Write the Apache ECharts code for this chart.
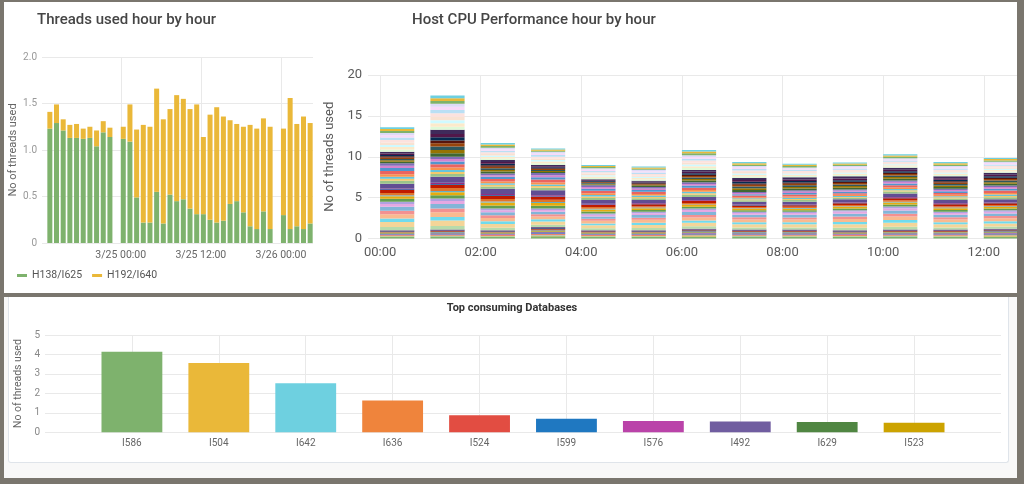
<!DOCTYPE html>
<html><head><meta charset="utf-8">
<script src="https://cdn.jsdelivr.net/npm/echarts@6/dist/echarts.min.js"></script>
<style>
html,body{margin:0;padding:0;background:#7a766e;}
#wrap{position:relative;width:1024px;height:484px;background:#7a766e;overflow:hidden;}
.p{position:absolute;}
#chart{position:absolute;left:0;top:0;width:1024px;height:484px;}
</style></head><body>
<div id="wrap">
<div class="p" style="left:4px;top:2px;width:1013px;height:291px;background:#fff"></div>
<div class="p" style="left:4px;top:297px;width:1013px;height:181px;background:#f8f8f8"></div>
<div class="p" style="left:8px;top:297px;width:999px;height:165px;background:#fff;border:1px solid #dfe4ea;border-top:none;border-radius:0 0 3px 3px"></div>
<div id="chart"></div>
<div class="p" style="left:1017px;top:0;width:7px;height:484px;background:#7a766e;z-index:5"></div>
</div>
<script>
// ---------- Chart 1: Threads used hour by hour ----------
const threadHours = [-11,-10,-9,-8,-7,-6,-5,-4,-3,-2,-1,0,1,2,3,4,5,6,7,8,9,10,11,12,13,14,15,16,17,18,19,20,21,22,23,24,25,26,27,28];
const threadSeriesNames = ['H138/I625','H192/I640'];
const h138Values = [1.23,1.29,1.21,1.13,1.13,1.12,1.13,1.04,1.19,1.14,null,1.12,1.09,0.49,0.22,0.22,0.55,0.21,0.52,0.45,0.47,0.37,0.31,0.31,0.25,0.22,0.24,0.42,0.45,0.33,0.18,0.15,0.34,0.15,null,0.30,0.15,0.18,0.15,0.21];
const h192Values = [0.18,0.20,0.12,0.14,0.15,0.11,0.12,0.17,0.12,0.10,null,0.13,0.40,0.73,1.05,1.03,1.11,1.12,0.92,1.14,1.08,1.07,1.18,0.83,1.13,1.24,1.12,0.90,0.83,0.92,1.09,1.08,1.00,1.10,null,0.93,1.41,1.10,1.21,1.08];
const threadTickHours = [0,12,24];
const threadTickLabels = ['3/25 00:00','3/25 12:00','3/26 00:00'];

// ---------- Chart 2: Host CPU Performance hour by hour ----------
const cpuHours = [0,1,2,3,4,5,6,7,8,9,10,11,12];
const cpuTickHours = [0,2,4,6,8,10,12];
const cpuTickLabels = ['00:00','02:00','04:00','06:00','08:00','10:00','12:00'];
const cpuSeriesValues = [
 [0.22,0.24,0.22,0.26,0.21,0.22,0.24,0.23,0.22,0.21,0.23,0.22,0.24],
 [0.06,0.05,0.05,0.08,0.06,0.05,0.07,0.06,0.05,0.05,0.06,0.06,0.07],
 [0.05,0.06,0.05,0.07,0.05,0.05,0.06,0.05,0.06,0.05,0.06,0.05,0.06],
 [0.04,0.06,0.06,0.08,0.05,0.06,0.06,0.06,0.06,0.06,0.05,0.06,0.06],
 [0.06,0.05,0.05,0.07,0.05,0.05,0.07,0.06,0.06,0.05,0.06,0.06,0.07],
 [0.05,0.06,0.04,0.08,0.06,0.05,0.06,0.05,0.06,0.05,0.06,0.06,0.06],
 [0.05,0.05,0.06,0.07,0.05,0.05,0.06,0.06,0.06,0.05,0.05,0.06,0.06],
 [0.06,0.06,0.05,0.08,0.05,0.06,0.07,0.06,0.06,0.06,0.06,0.06,0.07],
 [0.05,0.06,0.05,0.07,0.05,0.05,0.06,0.06,0.05,0.05,0.06,0.06,0.06],
 [0.05,0.05,0.06,0.08,0.06,0.05,0.06,0.05,0.06,0.05,0.06,0.06,0.06],
 [0.05,0.06,0.05,0.08,0.05,0.05,0.07,0.06,0.06,0.06,0.06,0.06,0.07],
 [0.05,0.06,0.05,0.07,0.05,0.05,0.06,0.06,0.06,0.05,0.06,0.06,0.06],
 [0.05,0.06,0.05,0.08,0.06,0.05,0.06,0.06,0.06,0.05,0.06,0.05,0.06],
 [0.05,0.05,0.06,0.07,0.05,0.05,0.06,0.06,0.06,0.05,0.06,0.06,0.06],
 [0.06,0.06,0.05,0.08,0.05,0.05,0.07,0.06,0.06,0.06,0.06,0.06,0.07],
 [0.05,0.06,0.05,0.08,0.05,0.06,0.06,0.06,0.06,0.05,0.06,0.06,0.06],
 [0.42,0.45,0.32,0.28,0.25,0.27,0.30,0.26,0.26,0.30,0.34,0.26,0.27],
 [0.60,0.66,0.46,0.39,0.36,0.39,0.43,0.38,0.37,0.43,0.48,0.38,0.39],
 [0.42,0.44,0.32,0.27,0.24,0.27,0.29,0.26,0.26,0.29,0.33,0.26,0.27],
 [0.53,0.58,0.41,0.35,0.31,0.35,0.37,0.33,0.33,0.37,0.43,0.33,0.35],
 [0.42,0.46,0.32,0.27,0.25,0.27,0.30,0.26,0.26,0.30,0.34,0.26,0.27],
 [0.49,0.53,0.37,0.32,0.29,0.32,0.35,0.30,0.31,0.35,0.39,0.30,0.32],
 [0.34,0.38,0.27,0.22,0.21,0.22,0.25,0.22,0.22,0.25,0.28,0.22,0.22],
 [0.28,0.30,0.20,0.17,0.15,0.18,0.18,0.16,0.16,0.18,0.21,0.16,0.18],
 [0.35,0.40,0.38,0.35,0.25,0.22,0.22,0.19,0.19,0.20,0.25,0.22,0.20],
 [0.33,0.38,0.36,0.33,0.24,0.21,0.21,0.18,0.19,0.20,0.24,0.21,0.20],
 [0.12,0.15,0.13,0.12,0.09,0.08,0.08,0.07,0.07,0.07,0.09,0.08,0.07],
 [0.28,0.35,0.30,0.28,0.20,0.18,0.18,0.15,0.15,0.17,0.19,0.18,0.17],
 [0.35,0.40,0.38,0.35,0.26,0.22,0.23,0.19,0.19,0.21,0.25,0.22,0.21],
 [0.08,0.10,0.09,0.08,0.06,0.05,0.05,0.04,0.04,0.05,0.06,0.05,0.05],
 [0.12,0.15,0.14,0.12,0.09,0.08,0.08,0.07,0.06,0.07,0.09,0.08,0.07],
 [0.57,0.72,0.65,0.60,0.45,0.39,0.38,0.34,0.34,0.36,0.43,0.39,0.36],
 [0.36,0.35,0.27,0.30,0.26,0.23,0.26,0.17,0.20,0.17,0.23,0.20,0.25],
 [0.25,0.25,0.19,0.21,0.18,0.16,0.18,0.12,0.14,0.12,0.16,0.14,0.17],
 [0.25,0.25,0.19,0.21,0.18,0.16,0.18,0.12,0.14,0.12,0.16,0.14,0.17],
 [0.29,0.28,0.22,0.24,0.21,0.19,0.21,0.14,0.16,0.14,0.19,0.16,0.20],
 [0.42,0.41,0.31,0.35,0.30,0.27,0.30,0.20,0.24,0.20,0.27,0.24,0.28],
 [0.35,0.34,0.26,0.29,0.25,0.22,0.25,0.17,0.20,0.17,0.22,0.20,0.24],
 [0.29,0.29,0.21,0.25,0.21,0.19,0.21,0.14,0.16,0.14,0.19,0.16,0.20],
 [0.29,0.28,0.21,0.25,0.21,0.18,0.21,0.14,0.16,0.14,0.18,0.16,0.19],
 [0.20,0.45,0.23,0.14,0.11,0.11,0.21,0.24,0.22,0.22,0.21,0.21,0.21],
 [0.17,0.40,0.20,0.12,0.09,0.09,0.18,0.21,0.19,0.19,0.19,0.18,0.19],
 [0.17,0.40,0.20,0.12,0.09,0.09,0.18,0.21,0.19,0.19,0.19,0.18,0.19],
 [0.17,0.40,0.20,0.12,0.09,0.09,0.18,0.21,0.19,0.19,0.19,0.18,0.19],
 [0.14,0.35,0.16,0.10,0.07,0.07,0.15,0.17,0.16,0.16,0.15,0.15,0.15],
 [0.17,0.40,0.20,0.12,0.09,0.09,0.18,0.21,0.19,0.19,0.19,0.18,0.19],
 [0.17,0.40,0.20,0.12,0.09,0.09,0.18,0.21,0.19,0.19,0.19,0.18,0.19],
 [0.21,0.50,0.25,0.16,0.12,0.12,0.24,0.24,0.27,0.27,0.24,0.24,0.24],
 [0.28,0.38,0.18,0.20,0.16,0.16,0.22,0.18,0.15,0.16,0.14,0.16,0.16],
 [0.30,0.42,0.20,0.21,0.18,0.18,0.24,0.19,0.16,0.16,0.15,0.16,0.18],
 [0.26,0.38,0.17,0.18,0.15,0.15,0.20,0.17,0.13,0.14,0.13,0.14,0.15],
 [0.30,0.42,0.19,0.20,0.17,0.17,0.23,0.18,0.15,0.16,0.14,0.16,0.17],
 [0.32,0.44,0.21,0.22,0.19,0.19,0.25,0.20,0.17,0.18,0.16,0.18,0.19],
 [0.28,0.40,0.19,0.20,0.17,0.17,0.23,0.19,0.15,0.16,0.15,0.16,0.17],
 [0.30,0.40,0.19,0.20,0.17,0.17,0.22,0.18,0.15,0.16,0.14,0.16,0.17],
 [0.26,0.36,0.17,0.19,0.16,0.16,0.21,0.17,0.14,0.14,0.14,0.14,0.16],
 [0.25,0.33,0.20,0.14,0.14,0.14,0.23,0.17,0.16,0.15,0.18,0.17,0.16],
 [0.25,0.35,0.20,0.14,0.14,0.14,0.23,0.17,0.16,0.16,0.17,0.17,0.16],
 [0.20,0.32,0.17,0.12,0.12,0.12,0.19,0.15,0.13,0.13,0.15,0.15,0.13]
];

// ---------- Chart 3: Top consuming Databases ----------
const dbNames = ['I586','I504','I642','I636','I524','I599','I576','I492','I629','I523'];
const dbThreads = [4.14,3.56,2.52,1.64,0.87,0.70,0.58,0.56,0.53,0.49];

// Grafana classic palette
const palette = ['#7EB26D','#EAB839','#6ED0E0','#EF843C','#E24D42','#1F78C1','#BA43A9','#705DA0','#508642','#CCA300',
 '#447EBC','#C15C17','#890F02','#0A437C','#6D1F62','#584477','#B7DBAB','#F4D598','#70DBED','#F9BA8F',
 '#F29191','#82B5D8','#E5A8E2','#AEA2E0','#629E51','#E5AC0E','#64B0C8','#E0752D','#BF1B00','#0A50A1',
 '#962D82','#614D93','#9AC48A','#F2C96D','#65C5DB','#F9934E','#EA6460','#5195CE','#D683CE','#806EB7',
 '#3F6833','#967302','#2F575E','#99440A','#58140C','#052B51','#511749','#3F2B5B','#E0F9D7','#FCEACA',
 '#CFFAFF','#F9E2D2','#FCE2DE','#BADFF4','#F9D9F9','#DEDAF7'];

const chart = echarts.init(document.getElementById('chart'), null, {renderer:'canvas'});
const gridColor = '#e9e9e9';
const font = 'Roboto';

// bars are left-aligned on their timestamp (flot style); data items are [value, hour]
const threadBarFrac = 0.75, cpuBarFrac = 0.68;
const enc = {x:1, y:0};
const series = [];
series.push({name:threadSeriesNames[0], type:'bar', xAxisIndex:0, yAxisIndex:0, stack:'threads', encode:enc, barWidth:(threadBarFrac*100)+'%',
  itemStyle:{color:'#7EB26D'}, data:threadHours.map((h,i)=>[h138Values[i], h+threadBarFrac/2])});
series.push({name:threadSeriesNames[1], type:'bar', xAxisIndex:0, yAxisIndex:0, stack:'threads', encode:enc, barWidth:(threadBarFrac*100)+'%',
  itemStyle:{color:'#EAB839'}, data:threadHours.map((h,i)=>[h192Values[i], h+threadBarFrac/2])});
cpuSeriesValues.forEach((row, k) => {
  series.push({name:'cpu-' + k, type:'bar', xAxisIndex:1, yAxisIndex:1, stack:'cpu', encode:enc, barWidth:(cpuBarFrac*100)+'%',
    itemStyle:{color:palette[k % palette.length]}, data:cpuHours.map((h,i)=>[row[i], h+cpuBarFrac/2])});
});
series.push({name:'Top consuming Databases', type:'bar', xAxisIndex:2, yAxisIndex:2, barWidth:'70%',
  data:[null].concat(dbThreads.map((v,i)=>({value:v, itemStyle:{color:palette[i]}}))).concat([null])});

const option = {
  animation:false,
  backgroundColor:'transparent',
  textStyle:{fontFamily:font},
  title:[
    {text:'Threads used hour by hour', left:37, top:13, padding:0, textStyle:{fontFamily:font, fontSize:15, fontWeight:500, color:'#454545'}},
    {text:'Host CPU Performance hour by hour', left:412, top:13, padding:0, textStyle:{fontFamily:font, fontSize:15, fontWeight:500, color:'#454545'}},
    {text:'Top consuming Databases', left:'center', top:303, padding:0, textStyle:{fontFamily:font, fontSize:11, fontWeight:'bold', color:'#333'}}
  ],
  legend:{data:threadSeriesNames, left:17, top:270, padding:0, icon:'rect', itemWidth:10, itemHeight:3, itemGap:10,
    textStyle:{fontFamily:font, fontSize:10.5, color:'#555'}},
  grid:[
    {left:42, top:57, width:271, height:186, outerBoundsMode:'none'},
    {left:368, top:75, right:0, height:163.5, outerBoundsMode:'none'},
    {left:45, top:335, width:956, height:97.3, outerBoundsMode:'none'}
  ],
  xAxis:[
    {type:'value', gridIndex:0, min:-11.8, max:28.8, axisLine:{show:false},
      axisTick:{show:false, customValues:threadTickHours},
      axisLabel:{customValues:threadTickHours, formatter:v=>threadTickLabels[threadTickHours.indexOf(v)], color:'#666', fontSize:10.5, margin:7},
      splitLine:{show:true, lineStyle:{color:gridColor}}},
    {type:'value', gridIndex:1, min:-0.24, max:12.8, axisLine:{show:false},
      axisTick:{show:false, customValues:cpuTickHours},
      axisLabel:{customValues:cpuTickHours, formatter:v=>cpuTickLabels[cpuTickHours.indexOf(v)], color:'#5a5a5a', fontSize:13, margin:8},
      splitLine:{show:true, lineStyle:{color:gridColor}}},
    {type:'category', gridIndex:2, boundaryGap:false, data:[''].concat(dbNames).concat(['']),
      axisLine:{show:false}, axisTick:{show:false},
      axisLabel:{color:'#666', fontSize:10, margin:6, interval:0},
      splitLine:{show:true, interval:(i)=>i>0 && i<dbNames.length+1, lineStyle:{color:gridColor}}}
  ],
  yAxis:[
    {type:'value', gridIndex:0, min:0, max:2, interval:0.5, axisLine:{show:false}, axisTick:{show:false},
      axisLabel:{color:'#999', fontSize:10, margin:5, formatter:v=>v===0?'0':v.toFixed(1)},
      splitLine:{lineStyle:{color:gridColor}},
      name:'No of threads used', nameLocation:'middle', nameGap:22, nameTextStyle:{color:'#666', fontSize:11, fontFamily:font}},
    {type:'value', gridIndex:1, min:0, max:20, interval:5, axisLine:{show:false}, axisTick:{show:false},
      axisLabel:{color:'#5a5a5a', fontSize:13, margin:6},
      splitLine:{lineStyle:{color:gridColor}},
      name:'No of threads used', nameLocation:'middle', nameGap:28, nameTextStyle:{color:'#5a5a5a', fontSize:13, fontFamily:font}},
    {type:'value', gridIndex:2, min:0, max:5, interval:1, axisLine:{show:false}, axisTick:{show:false},
      axisLabel:{color:'#888', fontSize:10, margin:5},
      splitLine:{lineStyle:{color:gridColor}},
      name:'No of threads used', nameLocation:'middle', nameGap:18, nameTextStyle:{color:'#666', fontSize:10.5, fontFamily:font}}
  ],
  series:series
};
chart.setOption(option);
</script>
</body></html>
